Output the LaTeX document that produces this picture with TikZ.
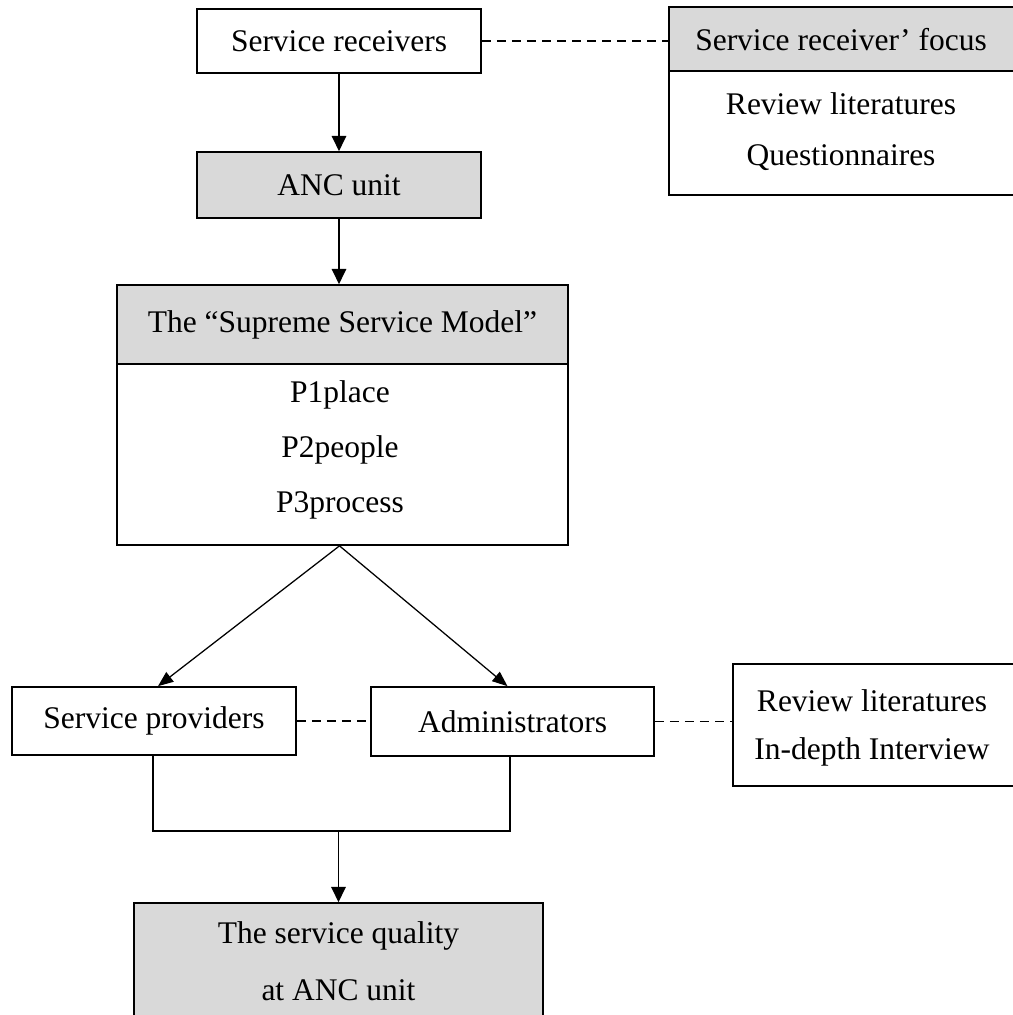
\documentclass[tikz,border=0pt]{standalone}
\usepackage{fontspec}
\setmainfont{Liberation Serif}
\usetikzlibrary{arrows.meta}
\definecolor{boxgray}{HTML}{D9D9D9}
\begin{document}
\begin{tikzpicture}[x=0.025cm,y=-0.025cm,
  font=\fontsize{22.4}{27}\selectfont,
  box/.style={draw=black,line width=1.2pt,inner sep=0pt,align=center},
  gbox/.style={box,fill=boxgray},
  txt/.style={inner sep=0pt,align=center},
  conn/.style={line width=1.3pt},
  arr/.style={conn,-{Triangle[length=0.38cm,width=0.36cm]}},
  darr/.style={line width=0.9pt,-{Triangle[length=0.38cm,width=0.3cm]}},
  dash line/.style={line width=1pt,dash pattern=on 6.4pt off 4.3pt}]
\clip (0,0) rectangle (1013,1015);
\fill[white] (0,0) rectangle (1013,1015);
% top left
\node[box,minimum width=284*0.025cm,minimum height=64*0.025cm] (sr) at (339,41) {Service receivers};
\node[gbox,minimum width=284*0.025cm,minimum height=66*0.025cm] (anc) at (339,185) {ANC unit};
% top right
\node[gbox,minimum width=356*0.025cm,minimum height=64*0.025cm] (rfh) at (847,39) {};
\node[txt] (rft) at (841,40) {Service receiver’ focus};
\node[box,minimum width=356*0.025cm,minimum height=124*0.025cm] (rfb) at (847,133) {};
\node[txt] (rf1) at (841,104) {Review literatures};
\node[txt] (rf2) at (841,158) {Questionnaires};
% supreme model
\node[gbox,minimum width=451*0.025cm,minimum height=79*0.025cm] (smh) at (342.5,324.5) {The “Supreme Service Model”};
\node[box,minimum width=451*0.025cm,minimum height=181*0.025cm] (smb) at (342.5,454.5) {};
\node[txt] (p1) at (340,395) {P1place};
\node[txt] (p2) at (340,450) {P2people};
\node[txt] (p3) at (340,505) {P3process};
% middle row
\node[box,minimum width=284*0.025cm,minimum height=68*0.025cm] (sp) at (154,721) {Service providers};
\node[box,minimum width=283*0.025cm,minimum height=69*0.025cm] (adm) at (512.5,721.5) {Administrators};
\node[box,minimum width=290*0.025cm,minimum height=122*0.025cm] (rb) at (878,725) {};
\node[txt] (rb1) at (872,701) {Review literatures};
\node[txt] (rb2) at (872,752) {In-depth Interview};
% bottom
\node[gbox,minimum width=409*0.025cm,minimum height=120*0.025cm] (bot) at (338.5,963) {};
\node[txt] (b1) at (338.5,936) {The service quality};
\node[txt] (b2) at (338.5,990) {at ANC unit};
% connectors
\draw[dash line] (sr.east) -- (sr.east -| rfh.west);
\draw[arr] (sr.south) -- (anc.north);
\draw[arr] (anc.south) -- (anc.south |- smh.north);
\draw[darr] ([xshift=-3*0.025cm]smb.south) -- ([xshift=4*0.025cm]sp.north);
\draw[darr] ([xshift=-3*0.025cm]smb.south) -- ([xshift=-5*0.025cm]adm.north);
\draw[dash line] (sp.east) -- (sp.east -| adm.west);
\draw[dash line] (adm.east) -- (adm.east -| rb.west);
\coordinate (j) at (338.5,831);
\draw[conn] ([xshift=-1*0.025cm]sp.south) |- (j);
\draw[conn] ([xshift=-2.5*0.025cm]adm.south) |- (j);
\draw[arr] (j) -- (bot.north);
\end{tikzpicture}
\end{document}
